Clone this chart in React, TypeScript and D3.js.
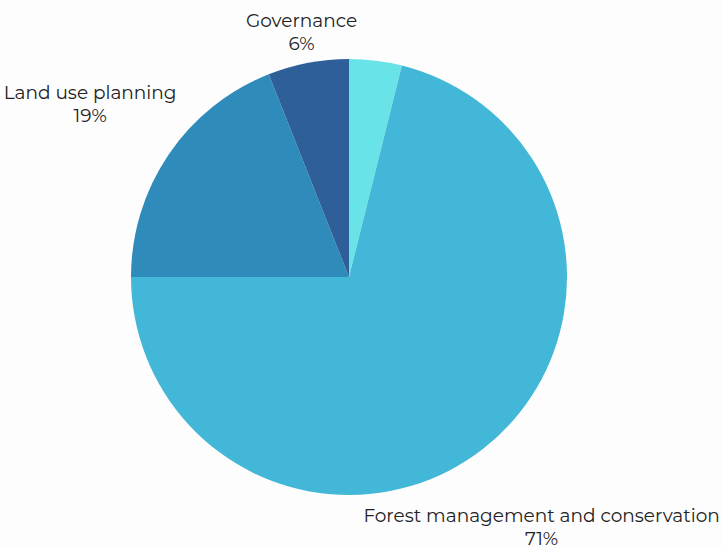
import React from "react";
import * as d3 from "d3";

const categories = ["Other", "Forest management and conservation", "Land use planning", "Governance"];
const values = [3.9, 71.1, 19, 6];
const labels = ["", "71%", "19%", "6%"];
const colors = ["#68e3e8", "#42b7d7", "#2e8bba", "#2e5f99"];

const W = 722;
const H = 548;

export default function App() {
  const cx = 349;
  const cy = 277;
  const r = 218;
  const labelR = 313;
  const fontSize = 18.5;
  const lineGap = 23;

  const pie = d3.pie<number>().sort(null).value((d) => d).startAngle(0).endAngle(2 * Math.PI);
  const arcs = pie(values);
  const arcGen = d3.arc<d3.PieArcDatum<number>>().innerRadius(0).outerRadius(r);

  return (
    <svg
      width={W}
      height={H}
      style={{ position: "absolute", left: 0, top: 0, background: "#fdfdfd" }}
      fontFamily="Montserrat, 'Open Sans', sans-serif"
    >
      <rect width={W} height={H} fill="#fdfdfd" />
      <g transform={`translate(${cx},${cy})`}>
        {arcs.map((a, i) => (
          <path key={i} d={arcGen(a) || ""} fill={colors[i]} />
        ))}
      </g>
      {arcs.map((a, i) => {
        if (!labels[i]) return null;
        const mid = (a.startAngle + a.endAngle) / 2;
        const s = Math.sin(mid);
        const c = -Math.cos(mid);
        let rr = labelR;
        const halfH = lineGap / 2 + 8;
        const yc = cy + rr * c;
        if (yc - halfH < 0 && c < 0) rr = (cy - halfH - 9) / -c;
        if (yc + halfH > H && c > 0) rr = (H - cy - halfH) / c;
        const x = cx + rr * s;
        const y = cy + rr * c;
        return (
          <text key={i} textAnchor="middle" fontSize={fontSize} fill="#222">
            <tspan x={x} y={y - lineGap / 2 + 9.5}>{categories[i]}</tspan>
            <tspan x={x} y={y + lineGap / 2 + 9.5}>{labels[i]}</tspan>
          </text>
        );
      })}
    </svg>
  );
}
